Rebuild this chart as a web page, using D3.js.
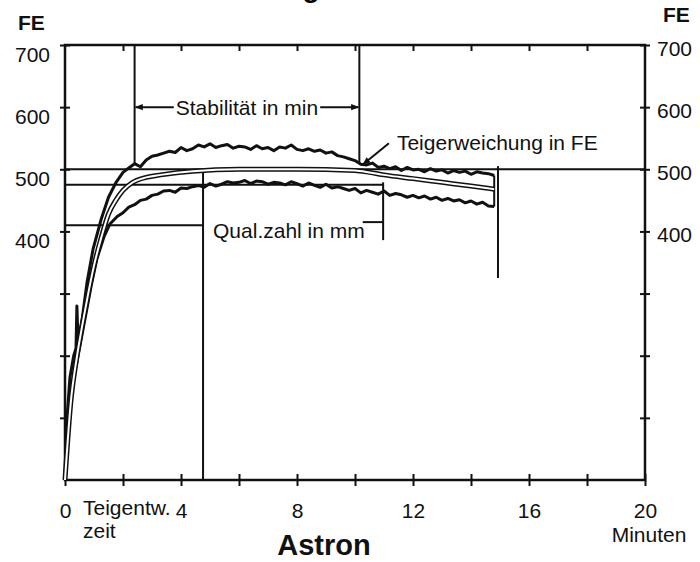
<!DOCTYPE html>
<meta charset="utf-8">
<style>
body { margin: 0; background: #fff; }
svg { display: block; background: #fff; font-family: "Liberation Sans", Arial, sans-serif; }
.axis path { display: none; }
.axis line { stroke: #111; stroke-width: 2px; }
.axis text { fill: #111; font-size: 21px; }
.ann { stroke: #111; stroke-width: 2px; fill: none; }
.lbl { fill: #111; font-size: 21px; }
</style>
<script src="https://d3js.org/d3.v7.min.js"></script>
<body>
<svg id="chart"></svg>
<script>

var width = 700,
    height = 562;

// x axis in minutes, y axis in FE
var xTicks = [0, 2, 4, 6, 8, 10, 12, 14, 16, 18, 20];
var xLabels = [0, 4, 8, 12, 16, 20];
var yTicks = [100, 200, 300, 400, 500, 600, 700];
var yLabels = [400, 500, 600, 700];

// steep start of the band (minute, FE)
var upperStart = [[0,0],[0.07,100],[0.17,165],[0.3,200],[0.38,212],[0.41,280],[0.45,222],[0.6,262],[0.76,318],[0.97,372],[1.25,420],[1.5,455],[1.75,478]];
var lowerStart = [[0,0],[0.1,80],[0.3,165],[0.5,212],[0.7,262],[0.9,312],[1.1,356],[1.35,392],[1.55,412],[1.8,424]];

// from 2 min to 14.8 min, one reading every 0.2 min
var readStart = 2.0, readStep = 0.2;
var upperFE = [495,502,509,504,515,521,523,526,529,527,535,530,533,539,536,541,535,538,540,534,
               537,536,532,538,533,535,530,536,534,539,532,530,533,529,531,526,528,522,520,517,
               514,508,507,510,503,505,501,504,498,503,499,500,496,501,497,499,494,498,495,497,
               492,496,494,493,490];
var lowerFE = [430,439,443,450,452,458,460,465,466,463,470,469,472,474,471,477,473,476,480,478,
               479,482,477,481,480,476,479,478,475,480,477,473,478,474,471,476,470,472,469,466,
               469,462,466,463,460,465,458,461,459,455,458,454,457,452,455,450,453,449,451,446,
               449,444,447,441,440];

// smooth middle curve (minute, FE)
var meanCurve = [[0,0],[0.2,125],[0.4,195],[0.6,250],[0.8,300],[1.0,345],[1.25,390],[1.5,428],[1.75,450],[2.0,466],[2.3,478],[2.8,487],[3.3,491],[4.4,497],[6,500],[8,500],[10,498],[10.5,495],[11,491],[12,485],[13,479],[14,473],[14.8,468]];

// evaluation marks
var stability = [2.4, 10.15];        // min, start and end of stability
var stabilityFE = [700, 510, 600];   // top, bottom, arrow level
var refFE = [500, 475, 410];         // reference lines
var qualTime = 4.76;                 // min
var qualEnd = [10.97, 479, 386, 415];// min, top FE, bottom FE, tick FE
var endMark = [14.93, 505, 325];     // min, top FE, bottom FE
var softArrow = [[11.17, 542], [10.28, 508]];

var svg = d3.select("#chart").attr("width", width).attr("height", height);

var x = d3.scaleLinear().domain([0, 20]).range([65, 645]);
var y = d3.scaleLinear().domain([0, 700]).range([480, 45]);

svg.append("defs").append("marker")
    .attr("id", "arr")
    .attr("viewBox", "0 0 10 10")
    .attr("refX", 9).attr("refY", 5)
    .attr("markerWidth", 4).attr("markerHeight", 4)
    .attr("orient", "auto-start-reverse")
  .append("path")
    .attr("d", "M0,1L10,5L0,9z")
    .attr("fill", "#111");

// clipped title at the very top
svg.append("text")
    .attr("x", 217).attr("y", -3)
    .attr("font-size", 28).attr("font-weight", "bold")
    .text("Farinogramm");

// frame
svg.append("rect")
    .attr("x", x(0)).attr("y", y(700))
    .attr("width", x(20) - x(0)).attr("height", y(0) - y(700))
    .attr("fill", "none").attr("stroke", "#111").attr("stroke-width", 2.5);

// left axis
var gl = svg.append("g").attr("class", "axis")
    .attr("transform", "translate(" + x(0) + ",0)")
    .call(d3.axisLeft(y).tickValues(yTicks).tickSize(5)
        .tickFormat(function(d) { return yLabels.indexOf(d) >= 0 ? d : ""; }));
gl.selectAll(".tick line").attr("x1", 5);
gl.selectAll(".tick text").attr("x", -15).attr("dy", null).attr("y", 16);

// right axis
var gr = svg.append("g").attr("class", "axis")
    .attr("transform", "translate(" + x(20) + ",0)")
    .call(d3.axisRight(y).tickValues(yTicks).tickSize(5)
        .tickFormat(function(d) { return yLabels.indexOf(d) >= 0 ? d : ""; }));
gr.selectAll(".tick line").attr("x1", -5);
gr.selectAll(".tick text").attr("x", 12).attr("dy", null).attr("y", 10);

// bottom axis
var gb = svg.append("g").attr("class", "axis")
    .attr("transform", "translate(0," + y(0) + ")")
    .call(d3.axisBottom(x).tickValues(xTicks).tickSize(6)
        .tickFormat(function(d) { return xLabels.indexOf(d) >= 0 ? d : ""; }));
gb.selectAll(".tick line").attr("y1", -6);
gb.selectAll(".tick text").attr("dy", null).attr("y", 38);

// top axis, inward ticks
svg.append("g").attr("class", "axis")
    .attr("transform", "translate(0," + y(700) + ")")
    .call(d3.axisBottom(x).tickValues(xTicks.slice(1, -1)).tickSize(6).tickFormat(""));

// reference lines
svg.append("line").attr("class", "ann")
    .attr("x1", x(0)).attr("x2", x(20)).attr("y1", y(refFE[0])).attr("y2", y(refFE[0]));
svg.append("line").attr("class", "ann")
    .attr("x1", x(0)).attr("x2", x(qualEnd[0])).attr("y1", y(refFE[1])).attr("y2", y(refFE[1]));
svg.append("line").attr("class", "ann")
    .attr("x1", x(0)).attr("x2", x(qualTime)).attr("y1", y(refFE[2])).attr("y2", y(refFE[2]));
svg.append("line").attr("class", "ann")
    .attr("x1", x(qualTime)).attr("x2", x(qualTime)).attr("y1", y(refFE[0])).attr("y2", y(0));

// stability
stability.forEach(function(t) {
  svg.append("line").attr("class", "ann")
      .attr("x1", x(t)).attr("x2", x(t)).attr("y1", y(stabilityFE[0])).attr("y2", y(stabilityFE[1]));
});

// end of test
svg.append("line").attr("class", "ann")
    .attr("x1", x(endMark[0])).attr("x2", x(endMark[0])).attr("y1", y(endMark[1])).attr("y2", y(endMark[2]));

// Qual.zahl end bracket
svg.append("line").attr("class", "ann")
    .attr("x1", x(qualEnd[0])).attr("x2", x(qualEnd[0])).attr("y1", y(qualEnd[1])).attr("y2", y(qualEnd[2]));

// curves
var line = d3.line().x(function(d) { return x(d[0]); }).y(function(d) { return y(d[1]); });

function withReadings(start, values) {
  return start.concat(values.map(function(v, i) { return [readStart + i * readStep, v]; }));
}
var upper = withReadings(upperStart, upperFE);
var lower = withReadings(lowerStart, lowerFE);

[upper, lower].forEach(function(c) {
  svg.append("path").datum(c)
      .attr("d", line)
      .attr("fill", "none").attr("stroke", "#111")
      .attr("stroke-width", 3).attr("stroke-linejoin", "round");
});
// join the band ends
svg.append("line").attr("class", "ann")
    .attr("x1", x(14.8)).attr("x2", x(14.8))
    .attr("y1", y(upperFE[upperFE.length - 1])).attr("y2", y(lowerFE[lowerFE.length - 1]));

var smooth = d3.line().curve(d3.curveMonotoneX)
    .x(function(d) { return x(d[0]); }).y(function(d) { return y(d[1]); });
svg.append("path").datum(meanCurve).attr("d", smooth)
    .attr("fill", "none").attr("stroke", "#111").attr("stroke-width", 5);
svg.append("path").datum(meanCurve).attr("d", smooth)
    .attr("fill", "none").attr("stroke", "#fff").attr("stroke-width", 2);

// stability arrow with label
var stabText = svg.append("text").attr("class", "lbl")
    .attr("x", x((stability[0] + stability[1]) / 2)).attr("y", y(stabilityFE[2]))
    .attr("dy", "0.36em").attr("text-anchor", "middle")
    .text("Stabilität in min");
var sb = stabText.node().getBBox();
svg.append("line").attr("class", "ann")
    .attr("x1", sb.x - 2).attr("x2", x(stability[0]) + 1)
    .attr("y1", y(stabilityFE[2])).attr("y2", y(stabilityFE[2]))
    .attr("marker-end", "url(#arr)");
svg.append("line").attr("class", "ann")
    .attr("x1", sb.x + sb.width + 2).attr("x2", x(stability[1]) - 1)
    .attr("y1", y(stabilityFE[2])).attr("y2", y(stabilityFE[2]))
    .attr("marker-end", "url(#arr)");

// softening
svg.append("line").attr("class", "ann")
    .attr("x1", x(softArrow[0][0])).attr("y1", y(softArrow[0][1]))
    .attr("x2", x(softArrow[1][0])).attr("y2", y(softArrow[1][1]))
    .attr("marker-end", "url(#arr)");
svg.append("text").attr("class", "lbl")
    .attr("x", x(softArrow[0][0]) + 8).attr("y", y(softArrow[0][1]) + 7)
    .text("Teigerweichung in FE");

// quality number
var qText = svg.append("text").attr("class", "lbl")
    .attr("x", x(qualTime) + 10).attr("y", y(refFE[2]) + 13)
    .text("Qual.zahl in mm");
var qb = qText.node().getBBox();
svg.append("line").attr("class", "ann")
    .attr("x1", qb.x + qb.width - 2).attr("x2", x(qualEnd[0]))
    .attr("y1", y(qualEnd[3])).attr("y2", y(qualEnd[3]));

// unit labels
svg.append("text").attr("class", "lbl").attr("x", 18).attr("y", 30)
    .attr("font-weight", "bold").attr("font-size", 20).text("FE");
svg.append("text").attr("class", "lbl").attr("x", 663).attr("y", 22)
    .attr("font-weight", "bold").attr("font-size", 20).text("FE");
svg.append("text").attr("class", "lbl").attr("x", 83).attr("y", 515)
    .attr("font-size", 19).text("Teigentw.");
svg.append("text").attr("class", "lbl").attr("x", 83).attr("y", 538)
    .attr("font-size", 19).text("zeit");
svg.append("text").attr("class", "lbl").attr("x", 649).attr("y", 542)
    .attr("text-anchor", "middle").attr("font-size", 20).text("Minuten");
svg.append("text").attr("x", 324).attr("y", 555)
    .attr("text-anchor", "middle").attr("font-size", 29).attr("font-weight", "bold")
    .attr("fill", "#111").text("Astron");

</script>
</body>
